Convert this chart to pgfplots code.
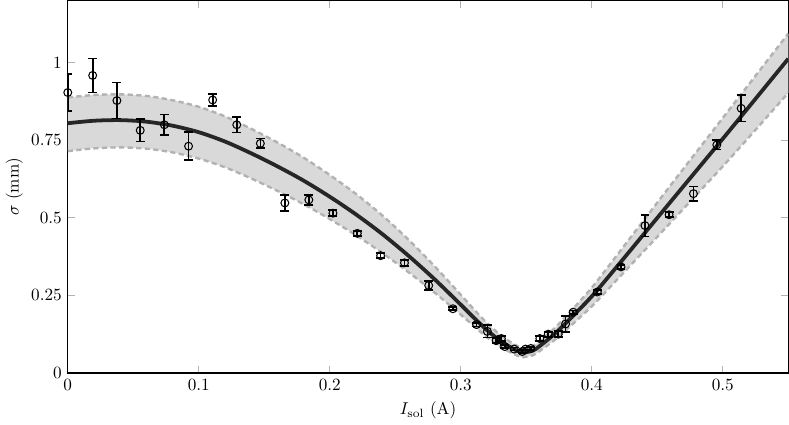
\documentclass[border=0pt]{standalone}
\usepackage{pgfplots}
\pgfplotsset{compat=1.18}
\usepgfplotslibrary{fillbetween}

\begin{document}
\begin{tikzpicture}
\begin{axis}[
width=420pt,
height=217pt,
scale only axis,
xmin=0, xmax=0.55,
ymin=0, ymax=1.2,
xtick={0,0.1,0.2,0.3,0.4,0.5},
ytick={0,0.25,0.5,0.75,1},
xlabel={$I_\mathrm{sol}$ (A)},
ylabel={$\sigma$ (mm)},
ylabel style={yshift=-2pt},
tick style={gray!60, line width=0.6pt},
axis line style={line width=0.8pt},
clip=true
]
% fit uncertainty band
\addplot[name path=upper, gray!60, dashed, dash pattern=on 3pt off 2pt, line width=1.4pt, smooth] coordinates {
(0,0.888) (0.02,0.896) (0.04,0.898) (0.06,0.893) (0.08,0.879) (0.10,0.858)
(0.12,0.827) (0.14,0.787) (0.16,0.743) (0.18,0.694) (0.20,0.638) (0.22,0.577)
(0.24,0.508) (0.26,0.430) (0.28,0.344) (0.30,0.252) (0.31,0.205) (0.32,0.161)
(0.33,0.123) (0.34,0.094) (0.347,0.081) (0.355,0.087) (0.36,0.102) (0.37,0.138)
(0.38,0.181) (0.40,0.275) (0.42,0.384) (0.44,0.494) (0.46,0.604) (0.48,0.713)
(0.50,0.822) (0.52,0.931) (0.55,1.094)
};
\addplot[name path=lower, gray!60, dashed, dash pattern=on 3pt off 2pt, line width=1.4pt, smooth] coordinates {
(0,0.715) (0.02,0.724) (0.04,0.727) (0.06,0.723) (0.08,0.711) (0.10,0.691)
(0.12,0.663) (0.14,0.627) (0.16,0.587) (0.18,0.544) (0.20,0.496) (0.22,0.444)
(0.24,0.387) (0.26,0.325) (0.28,0.259) (0.30,0.188) (0.31,0.151) (0.32,0.115)
(0.33,0.085) (0.34,0.062) (0.347,0.051) (0.355,0.057) (0.36,0.070) (0.37,0.101)
(0.38,0.137) (0.40,0.215) (0.42,0.304) (0.44,0.394) (0.46,0.484) (0.48,0.575)
(0.50,0.666) (0.52,0.760) (0.55,0.903)
};
\addplot[gray!30] fill between[of=upper and lower];
% fit
\addplot[black!85, line width=2.2pt, smooth] coordinates {
(0,0.805) (0.02,0.813) (0.04,0.815) (0.06,0.810) (0.08,0.797) (0.10,0.776)
(0.12,0.746) (0.14,0.708) (0.16,0.666) (0.18,0.620) (0.20,0.568) (0.22,0.511)
(0.24,0.448) (0.26,0.378) (0.28,0.302) (0.30,0.220) (0.31,0.178) (0.32,0.138)
(0.33,0.104) (0.34,0.078) (0.347,0.066) (0.355,0.072) (0.36,0.086) (0.37,0.120)
(0.38,0.160) (0.40,0.247) (0.42,0.347) (0.44,0.449) (0.46,0.551) (0.48,0.653)
(0.50,0.755) (0.52,0.858) (0.55,1.013)
};
% measurements
\addplot[only marks, mark=o, mark size=2.3pt, black, mark options={line width=0.6pt},
  error bars/.cd, y dir=both, y explicit,
  error bar style={line width=1pt},
  error mark options={rotate=90, mark size=2.6pt, line width=1pt}]
table[x=x, y=y, y error=e] {
x y e
0.000 0.904 0.060
0.019 0.959 0.055
0.0375 0.878 0.058
0.0553 0.782 0.036
0.0737 0.800 0.033
0.0922 0.731 0.045
0.1106 0.880 0.020
0.129 0.800 0.025
0.147 0.740 0.016
0.1657 0.548 0.025
0.184 0.558 0.016
0.2024 0.515 0.010
0.221 0.450 0.008
0.2388 0.378 0.008
0.257 0.355 0.010
0.2755 0.282 0.015
0.294 0.207 0.005
0.312 0.156 0.006
0.3203 0.134 0.020
0.327 0.104 0.008
0.331 0.111 0.008
0.3336 0.085 0.005
0.3407 0.077 0.005
0.3469 0.069 0.005
0.3494 0.077 0.005
0.3535 0.079 0.005
0.3603 0.111 0.008
0.3667 0.125 0.008
0.3744 0.125 0.010
0.380 0.158 0.025
0.3858 0.196 0.005
0.4042 0.261 0.006
0.4223 0.342 0.007
0.4406 0.475 0.035
0.459 0.510 0.008
0.4776 0.578 0.023
0.4954 0.735 0.015
0.514 0.853 0.042
};
\end{axis}
\end{tikzpicture}
\end{document}
